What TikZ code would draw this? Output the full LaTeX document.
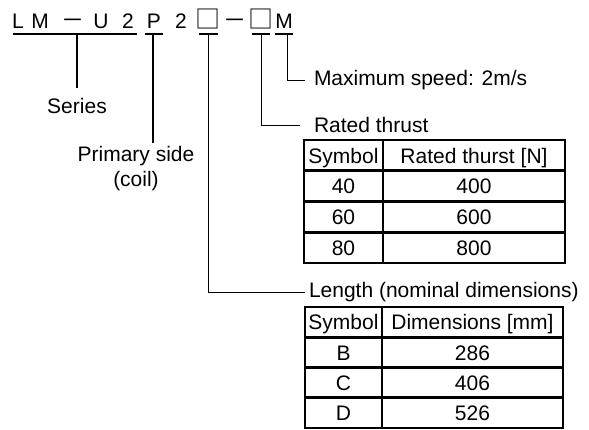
\documentclass[tikz,border=0pt]{standalone}
\usepackage{fontspec}
\setmainfont{Liberation Sans}
\newfontfamily\cjkfont{Noto Sans CJK JP}
\newcommand\boxch{{\cjkfont\fontsize{25}{25}\selectfont □}}
\newcommand\dashch{{\cjkfont\fontsize{23}{23}\selectfont －}}
\usetikzlibrary{positioning,matrix}

\begin{document}
\begin{tikzpicture}[x=1pt,y=-1pt,
    every node/.style={font=\fontsize{21}{24.5}\selectfont,inner sep=0pt,outer sep=0pt},
    bar/.style={line width=2pt},
    lead/.style={line width=1pt},
    codetable/.style={matrix of nodes,column sep=-2.8pt,row sep=-2.8pt,anchor=north west,
      nodes={draw,line width=2.8pt,text height=15.3pt,text depth=0pt,anchor=center}}]
  \useasboundingbox (0,0) rectangle (589,429);

  % model code, one character per node
  \foreach \ch/\xx/\nm in {L/18/cL,M/40/cM,\dashch/73/cDa,U/101/cU,2/128/cTa,P/154/cP,
      2/181/cTb,\boxch/208/cLen,\dashch/235/cDb,\boxch/261/cThr,M/284/cSpd}
    \node[anchor=base] (\nm) at (\xx,28) {\ch};

  % underlines
  \draw[bar] (13,34) -- (137,34);
  \draw[bar] (145,34) -- (163,34);
  \draw[bar] (199,34) -- (218,34);
  \draw[bar] (252,34) -- (270,34);
  \draw[bar] (275,34) -- (293,34);

  \coordinate (serTop) at (77,34);
  \coordinate (serEnd) at (77,88);
  \coordinate (priTop) at (153,34);
  \coordinate (priEnd) at (153,143);
  \coordinate (lenTop) at (208,34);
  \coordinate (lenEnd) at (305,292);
  \coordinate (thrTop) at (261,34);
  \coordinate (thrEnd) at (300,125);
  \coordinate (spdTop) at (287,34);
  \coordinate (spdEnd) at (305,80);

  \node[below=10.5pt of serEnd] (series) {Series};
  \node[below=3.5pt of priEnd,xshift=-17pt,align=center] (primary) {Primary side\\(coil)};
  \node[right=9pt of spdEnd] (speed) {Maximum speed: 2m/s};
  \node[right=14pt of thrEnd] (thrust) {Rated thrust};
  \node[right=4pt of lenEnd] (length) {Length (nominal dimensions)};

  \draw[bar] (serTop) -- (serEnd);
  \draw[bar] (priTop) -- (priEnd);
  \draw[lead] (spdTop) |- (spdEnd);
  \draw[lead] (thrTop) |- (thrEnd);
  \draw[lead] (lenTop) |- (lenEnd);

  % code tables
  \matrix[codetable,nodes={minimum height=30.75pt},
          column 1/.style={nodes={minimum width=79pt}},
          column 2/.style={nodes={minimum width=182pt}}] (thrtab) at (302.6,138.6) {
    Symbol & Rated thurst [N]\\
    40 & 400\\
    60 & 600\\
    80 & 800\\
  };
  \matrix[codetable,nodes={minimum height=30.25pt},
          column 1/.style={nodes={minimum width=77pt}},
          column 2/.style={nodes={minimum width=181pt}}] (dimtab) at (303.6,305.6) {
    Symbol & Dimensions [mm]\\
    B & 286\\
    C & 406\\
    D & 526\\
  };
\end{tikzpicture}
\end{document}
